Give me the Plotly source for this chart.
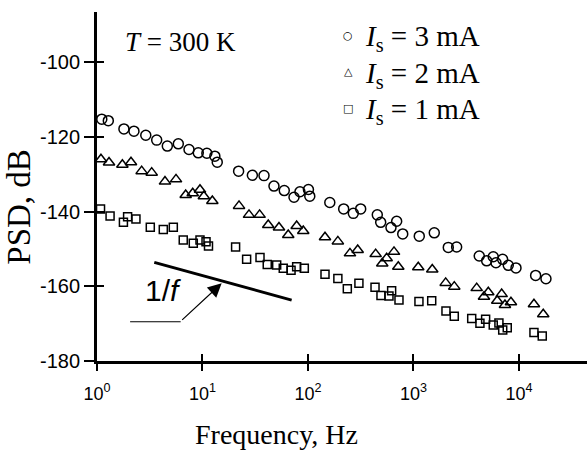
import numpy as np
import plotly.graph_objects as go

# ---------------- data ----------------
freq_3mA = [1.11, 1.28, 1.80, 2.24, 2.90, 3.68, 4.64, 5.90, 7.45, 9.12, 11.0, 13.1, 13.8,
            22.0, 29.7, 38.3, 47.6, 59.6, 73.7, 83.9, 101, 104, 161, 218, 269, 316,
            454, 489, 612, 693, 791, 1135, 1575, 2138, 2566, 4203, 4940, 5705, 6053,
            7000, 7918, 9373, 14390, 18030]
psd_3mA = [-115.3, -115.7, -117.9, -118.5, -119.6, -120.9, -122.5, -121.9, -123.4, -124.3,
           -124.4, -125.2, -126.8, -129.2, -130.3, -130.4, -133.2, -134.4, -136.2, -134.7,
           -134.1, -135.9, -137.6, -139.3, -140.5, -139.3, -140.9, -142.9, -144.3, -142.6,
           -146.0, -146.6, -145.7, -149.6, -149.5, -151.9, -153.2, -152.1, -153.7, -152.8,
           -154.4, -155.1, -157.1, -158.0]

freq_2mA = [1.09, 1.30, 1.74, 2.10, 2.65, 3.30, 4.41, 5.61, 6.93, 8.08, 9.47, 10.3, 12.4,
            22.2, 27.6, 34.8, 42.0, 53.1, 65.0, 78.1, 90.2, 145, 192, 250, 296, 438,
            506, 557, 654, 718, 1110, 1507, 2020, 2437, 3975, 4660, 5120, 6226, 6855,
            7365, 8395, 13870, 16990]
psd_2mA = [-126.0, -126.9, -127.5, -126.8, -129.2, -129.6, -132.0, -131.4, -135.6, -135.1,
           -134.2, -135.9, -137.2, -138.5, -140.9, -140.9, -143.6, -144.3, -146.3, -143.9,
           -145.2, -146.9, -148.0, -151.2, -150.3, -151.4, -153.9, -152.5, -150.8, -154.8,
           -154.9, -155.5, -159.1, -160.1, -160.5, -162.8, -161.6, -163.9, -162.1, -165.0,
           -164.3, -164.8, -167.5]

freq_1mA = [1.08, 1.33, 1.78, 1.95, 2.34, 3.20, 4.25, 5.29, 6.57, 8.18, 9.47, 10.8, 11.4,
            20.6, 26.2, 35.1, 41.1, 50.5, 58.3, 69.1, 78.1, 92.3, 145, 192, 236, 304,
            432, 492, 586, 621, 729, 1127, 1489, 2033, 2437, 3565, 4266, 4830, 5705,
            6457, 7015, 7745, 13870, 16630]
psd_1mA = [-139.3, -141.2, -142.9, -141.4, -142.0, -144.2, -144.8, -144.2, -147.6, -148.5,
           -147.6, -148.1, -149.2, -149.5, -152.8, -152.3, -154.2, -154.3, -155.2, -155.7,
           -154.8, -155.2, -156.8, -157.9, -160.7, -159.2, -160.3, -162.5, -162.6, -161.2,
           -163.7, -164.1, -163.9, -166.6, -168.0, -168.6, -169.9, -168.8, -170.4, -169.8,
           -171.7, -171.1, -172.4, -173.3]

# 1/f guide line and its pointer
slope_freq = [3.49, 70.0]
slope_psd = [-153.6, -163.7]
leader_freq = [2.06, 6.21]
leader_psd = [-169.5, -169.5]
arrow_tip_freq = 15.2
arrow_tip_psd = -159.2

x_tick_vals = [1, 10, 100, 1000, 10000]
x_tick_text = ["10<sup>0</sup>", "10<sup>1</sup>", "10<sup>2</sup>", "10<sup>3</sup>", "10<sup>4</sup>"]
y_tick_vals = [-180, -160, -140, -120, -100]
y_tick_text = ["-180", "-160", "-140", "-120", "-100"]

series_labels = ["<i>I</i><sub>s</sub>\u00a0= 3 mA",
                 "<i>I</i><sub>s</sub>\u00a0= 2 mA",
                 "<i>I</i><sub>s</sub>\u00a0= 1 mA"]

# ---------------- figure ----------------
SERIF = "Liberation Serif"
SANS = "Liberation Sans"

fig = go.Figure()

series = [
    (freq_3mA, psd_3mA, "circle-open", 10),
    (freq_2mA, psd_2mA, "triangle-up-open", 10),
    (freq_1mA, psd_1mA, "square-open", 8),
]
for f, p, sym, sz in series:
    fig.add_trace(go.Scatter(
        x=f, y=p, mode="markers", cliponaxis=False, showlegend=False,
        marker=dict(symbol=sym, size=sz, color="black", line=dict(width=1.5, color="black")),
    ))

fig.add_trace(go.Scatter(x=slope_freq, y=slope_psd, mode="lines", showlegend=False,
                         line=dict(color="black", width=3)))
fig.add_trace(go.Scatter(x=leader_freq, y=leader_psd, mode="lines", showlegend=False,
                         line=dict(color="black", width=1.2)))
# dummy trace so the overlay axes (inner half of the crossing ticks) are drawn
fig.add_trace(go.Scatter(x=[], y=[], xaxis="x2", yaxis="y2", showlegend=False))

x_range = [0, 4.645]
y_range = [-180, -86.62]

fig.update_layout(
    width=587, height=450,
    margin=dict(l=97, r=0, t=12, b=89),
    paper_bgcolor="white", plot_bgcolor="white",
    xaxis=dict(type="log", range=x_range, showline=True, linewidth=3, linecolor="black",
               ticks="outside", ticklen=7, tickwidth=1.5, tickcolor="black",
               tickvals=x_tick_vals, ticktext=x_tick_text, ticklabelstandoff=7,
               tickfont=dict(family=SANS, size=18, color="black"),
               showgrid=False, zeroline=False),
    yaxis=dict(range=y_range, showline=True, linewidth=3, linecolor="black",
               ticks="outside", ticklen=10, tickwidth=1.5, tickcolor="black",
               tickvals=y_tick_vals, ticktext=y_tick_text,
               tickfont=dict(family=SANS, size=20, color="black"),
               showgrid=False, zeroline=False),
    xaxis2=dict(type="log", range=x_range, overlaying="x", anchor="y", side="bottom",
                ticks="inside", ticklen=7, tickwidth=1.5, tickcolor="black",
                tickvals=x_tick_vals, showticklabels=False, showgrid=False,
                zeroline=False, showline=False),
    yaxis2=dict(range=y_range, overlaying="y", anchor="x", side="left",
                ticks="inside", ticklen=7, tickwidth=1.5, tickcolor="black",
                tickvals=y_tick_vals, showticklabels=False, showgrid=False,
                zeroline=False, showline=False),
)

ann = []
ann.append(dict(xref="paper", yref="paper", x=0.367, y=-0.212, text="Frequency, Hz",
                showarrow=False, xanchor="center", yanchor="middle",
                font=dict(family=SERIF, size=28, color="black")))
ann.append(dict(xref="paper", yref="paper", x=-0.158, y=0.441, text="PSD, dB",
                textangle=-90, showarrow=False, xanchor="center", yanchor="middle",
                font=dict(family=SERIF, size=33, color="black")))
ann.append(dict(xref="paper", yref="paper", x=0.053, y=0.914, text="<i>T</i> = 300 K",
                showarrow=False, xanchor="left", yanchor="middle",
                font=dict(family=SERIF, size=27, color="black")))
legend_y = [0.9255, 0.8195, 0.716]
symbols = ["○", "△", "□"]
symbol_y = [0.934, 0.829, 0.724]
for lab, ly, s, sy in zip(series_labels, legend_y, symbols, symbol_y):
    ann.append(dict(xref="paper", yref="paper", x=0.543, y=ly, text=lab, showarrow=False,
                    xanchor="left", yanchor="middle",
                    font=dict(family=SERIF, size=29, color="black")))
    ann.append(dict(xref="paper", yref="paper", x=0.513, y=sy, text=s, showarrow=False,
                    xanchor="center", yanchor="middle",
                    font=dict(family="DejaVu Sans", size=11, color="black")))
ann.append(dict(xref="paper", yref="paper", x=0.134, y=0.201, text="1/<i>f</i>",
                showarrow=False, xanchor="center", yanchor="middle",
                font=dict(family=SANS, size=30, color="black")))
ann.append(dict(xref="x", yref="y", x=np.log10(arrow_tip_freq), y=arrow_tip_psd, text="",
                showarrow=True, arrowhead=2, arrowsize=2.3, arrowwidth=1.2,
                arrowcolor="black", ax=-41, ay=38, standoff=0))
fig.update_layout(annotations=ann)

fig.write_html("out.html")
